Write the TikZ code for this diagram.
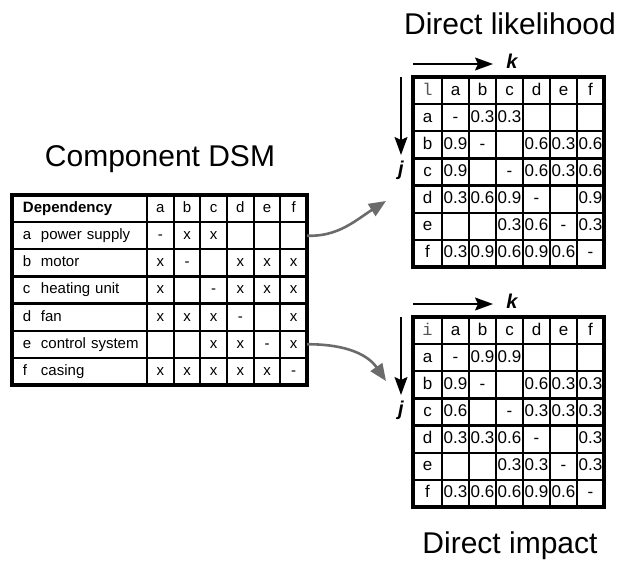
\documentclass[tikz,border=0pt]{standalone}
\usepackage{fontspec}
\setmainfont{Liberation Sans}
\newfontfamily\cornerfont{Liberation Mono}
\usetikzlibrary{arrows.meta,matrix}
\definecolor{flowgray}{HTML}{6B6B6B}
\definecolor{cornergray}{HTML}{555555}
\newcommand\rowlab[1]{\makebox[18pt][l]{#1}}

\tikzset{
  title/.style={font=\fontsize{30}{30}\selectfont, inner sep=0pt, anchor=base},
  grid/.style={line width=2.2pt, line cap=rect},
  frame/.style={line width=3.6pt, line join=miter},
  dsmtab/.style={matrix of nodes, nodes in empty cells, inner sep=0pt, outer sep=0pt,
    column sep=0pt, row sep=0pt, anchor=north west,
    nodes={minimum width=26.67pt, minimum height=27.14pt, inner sep=0pt, outer sep=0pt,
      text height=10.8pt, text depth=3pt, font=\fontsize{15}{15}\selectfont},
    column 1/.style={nodes={text width=124pt, align=left, inner xsep=5.5pt,
      execute at begin node=\hspace*{5.5pt}}}},
  valtab/.style={matrix of nodes, nodes in empty cells, inner sep=0pt, outer sep=0pt,
    column sep=0pt, row sep=0pt, anchor=north west,
    nodes={minimum width=27pt, minimum height=27.14pt, inner sep=0pt, outer sep=0pt,
      text height=12pt, text depth=3pt, font=\fontsize{17}{17}\selectfont},
    column 1/.style={nodes={minimum width=29pt}}},
  corner/.style={font=\fontsize{17}{17}\selectfont\cornerfont, text=cornergray},
  axisarrow/.style={line width=1.6pt, -{Stealth[length=18pt,width=13pt,inset=3pt]}},
  axislabel/.style={font=\fontsize{20}{20}\selectfont\bfseries\itshape, inner sep=0pt},
  flow/.style={draw=flowgray, line width=2.6pt, -{Triangle[length=17pt,width=14pt]}, fill=none},
}

% horizontal and vertical rules of a 7x7 table matrix
\newcommand\tablerules[1]{%
  \foreach \c in {2,...,7} \draw[grid] (#1-1-\c.north west) -- (#1-7-\c.south west);
  \foreach \r in {2,...,7} \draw[grid] (#1-\r-1.north west) -- (#1-\r-7.north east);
  \draw[frame] (#1-1-1.north west) rectangle (#1-7-7.south east);
}

\begin{document}
\begin{tikzpicture}[x=1pt,y=-1pt]
\useasboundingbox (0,0) rectangle (620,561);

% titles
\node[title] (ttl) at (510,35) {Direct likelihood};
\node[title] (ttc) at (160,167) {Component DSM};
\node[title] (tti) at (510,553) {Direct impact};

% component DSM
\matrix (dsm) [dsmtab] at (12,195) {
  |[font=\fontsize{15}{15}\selectfont\bfseries]| Dependency & a & b & c & d & e & f \\
  \rowlab{a}power supply   & - & x & x &   &   &   \\
  \rowlab{b}motor          & x & - &   & x & x & x \\
  \rowlab{c}heating unit   & x &   & - & x & x & x \\
  \rowlab{d}fan            & x & x & x & - &   & x \\
  \rowlab{e}control system &   &   & x & x & - & x \\
  \rowlab{f}casing         & x & x & x & x & x & - \\
};
\tablerules{dsm}

% direct likelihood
\matrix (lik) [valtab] at (413,77) {
  |[corner]| l & a & b & c & d & e & f \\
  a & -   & 0.3 & 0.3 &     &     &     \\
  b & 0.9 & -   &     & 0.6 & 0.3 & 0.6 \\
  c & 0.9 &     & -   & 0.6 & 0.3 & 0.6 \\
  d & 0.3 & 0.6 & 0.9 & -   &     & 0.9 \\
  e &     &     & 0.3 & 0.6 & -   & 0.3 \\
  f & 0.3 & 0.9 & 0.6 & 0.9 & 0.6 & -   \\
};
\tablerules{lik}

% direct impact
\matrix (imp) [valtab] at (413,317) {
  |[corner]| i & a & b & c & d & e & f \\
  a & -   & 0.9 & 0.9 &     &     &     \\
  b & 0.9 & -   &     & 0.6 & 0.3 & 0.3 \\
  c & 0.6 &     & -   & 0.3 & 0.3 & 0.3 \\
  d & 0.3 & 0.3 & 0.6 & -   &     & 0.3 \\
  e &     &     & 0.3 & 0.3 & -   & 0.3 \\
  f & 0.3 & 0.6 & 0.6 & 0.9 & 0.6 & -   \\
};
\tablerules{imp}

% index arrows k (columns) and j (rows)
\coordinate (lk0) at (413,64);  \coordinate (lk1) at (493,64);
\coordinate (lj0) at (401,77);  \coordinate (lj1) at (401,155);
\draw[axisarrow] (lk0) -- (lk1);
\draw[axisarrow] (lj0) -- (lj1);
\node[axislabel] (lkl) at (512,61) {k};
\node[axislabel] (ljl) at (401,170) {j};

\coordinate (ik0) at (413,304); \coordinate (ik1) at (493,304);
\coordinate (ij0) at (401,317); \coordinate (ij1) at (401,395);
\draw[axisarrow] (ik0) -- (ik1);
\draw[axisarrow] (ij0) -- (ij1);
\node[axislabel] (ikl) at (512,301) {k};
\node[axislabel] (ijl) at (401,410) {j};

% derivation arrows
\coordinate (toLik) at (386,201);
\coordinate (toImp) at (386,381);
\draw[flow] (dsm-2-7.east) .. controls (338,237) and (356,220) .. (toLik);
\draw[flow] (dsm-6-7.east) .. controls (340,344) and (366,352) .. (toImp);
\end{tikzpicture}
\end{document}
